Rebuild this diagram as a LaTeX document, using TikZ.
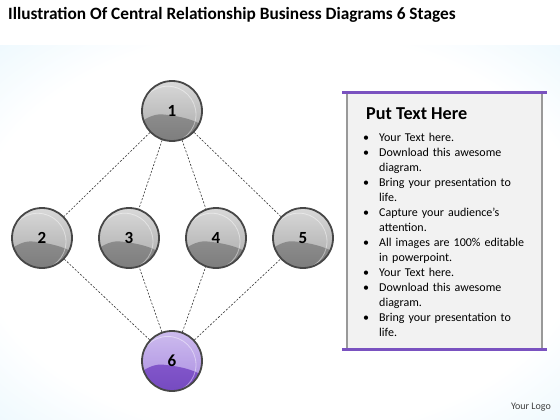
\documentclass[tikz,border=0pt]{standalone}
\usepackage{fontspec}
\setmainfont{Carlito}
\definecolor{bgblue}{RGB}{212,239,252}
\definecolor{barpurple}{RGB}{122,82,192}
\definecolor{panelgray}{RGB}{242,242,242}
\definecolor{lilac}{RGB}{205,188,238}
\definecolor{lilacmid}{RGB}{170,140,225}
\definecolor{purplelow}{RGB}{145,100,215}
\definecolor{purpledeep}{RGB}{115,72,190}
\pgfdeclareradialshading{bgglow}{\pgfpoint{0bp}{0bp}}{color(0bp)=(white); color(27bp)=(white); color(50bp)=(bgblue); color(72bp)=(bgblue)}
\tikzset{
  ball/.style n args={4}{circle, minimum size=60pt, inner sep=0pt, draw=black!72, line width=1.8pt,
    top color=#1, bottom color=#2, font=\bfseries\fontsize{17}{17}\selectfont,
    path picture={
      \shade[shift={(path picture bounding box.center)}, top color=#3, bottom color=#4]
        (-32pt,-11pt) .. controls (-20pt,-2pt) and (-12pt,1pt) .. (-4pt,0pt)
        .. controls (6pt,-1pt) and (20pt,-3pt) .. (32pt,-9pt) -- (32pt,-32pt) -- (-32pt,-32pt) -- cycle;
      \draw[shift={(path picture bounding box.center)}, white, opacity=0.45, line width=0.8pt] (0,0) circle (28.3pt);
    }},
  ballg/.style={ball={black!15}{black!34}{black!38}{black!52}},
  ballp/.style={ball={lilac}{lilacmid}{purplelow}{purpledeep}},
  link/.style={black!80, line width=0.6pt, dash pattern=on 2pt off 1.6pt},
  panel/.style={rectangle, fill=panelgray, draw=black!40, line width=1.4pt, minimum width=195pt, minimum height=256pt},
  bar/.style={barpurple, line width=3pt}
}
\begin{document}
\begin{tikzpicture}[x=1pt,y=1pt]
  \useasboundingbox (0,0) rectangle (560,-420);
  \fill[white] (0,0) rectangle (560,-420);
  \shade[shading=bgglow] (0,-46) rectangle (560,-420);

  \node[anchor=base west, font=\bfseries\fontsize{17.3}{17.3}\selectfont, inner sep=0pt] (title) at (8,-20)
    {Illustration Of Central Relationship Business Diagrams 6 Stages};

  \node[ballg] (n1) at (172,-111) {\raisebox{-2pt}{1}};
  \node[ballg] (n2) at (42,-238) {\raisebox{-2pt}{2}};
  \node[ballg] (n3) at (129,-238) {\raisebox{-2pt}{3}};
  \node[ballg] (n4) at (216,-238) {\raisebox{-2pt}{4}};
  \node[ballg] (n5) at (303,-238) {\raisebox{-2pt}{5}};
  \node[ballp] (n6) at (172,-361) {\raisebox{-2pt}{6}};
  \foreach \k in {2,...,5}
    \draw[link] (n1) -- (n\k) (n6) -- (n\k);

  \node[panel] (panel) at (444.5,-221) {};
  \draw[bar] ([xshift=-4pt]panel.north west) -- ([xshift=4pt]panel.north east);
  \draw[bar] ([xshift=-4pt]panel.south west) -- ([xshift=4pt]panel.south east);
  \node[anchor=base west, font=\bfseries\fontsize{18.2}{18}\selectfont, inner sep=0pt] (head) at (366,-119) {Put Text Here};
  \node[anchor=north west, text width=170pt, inner sep=0pt, font=\fontsize{12}{15}\selectfont] (items) at (362,-126) {%
    \begin{list}{\textbullet}{\leftmargin=17pt \labelsep=10pt \labelwidth=7pt \itemsep=0pt \parsep=0pt \topsep=0pt \partopsep=0pt}
      \item Your Text here.
      \item Download this awesome\newline diagram.
      \item Bring your presentation to\newline life.
      \item Capture your audience’s\newline attention.
      \item All images are 100\% editable\newline in powerpoint.
      \item Your Text here.
      \item Download this awesome\newline diagram.
      \item Bring your presentation to\newline life.
    \end{list}};

  \node[anchor=base east, font=\fontsize{10}{10}\selectfont, text=black!75, inner sep=0pt] (logo) at (551,-409) {Your Logo};
\end{tikzpicture}
\end{document}
